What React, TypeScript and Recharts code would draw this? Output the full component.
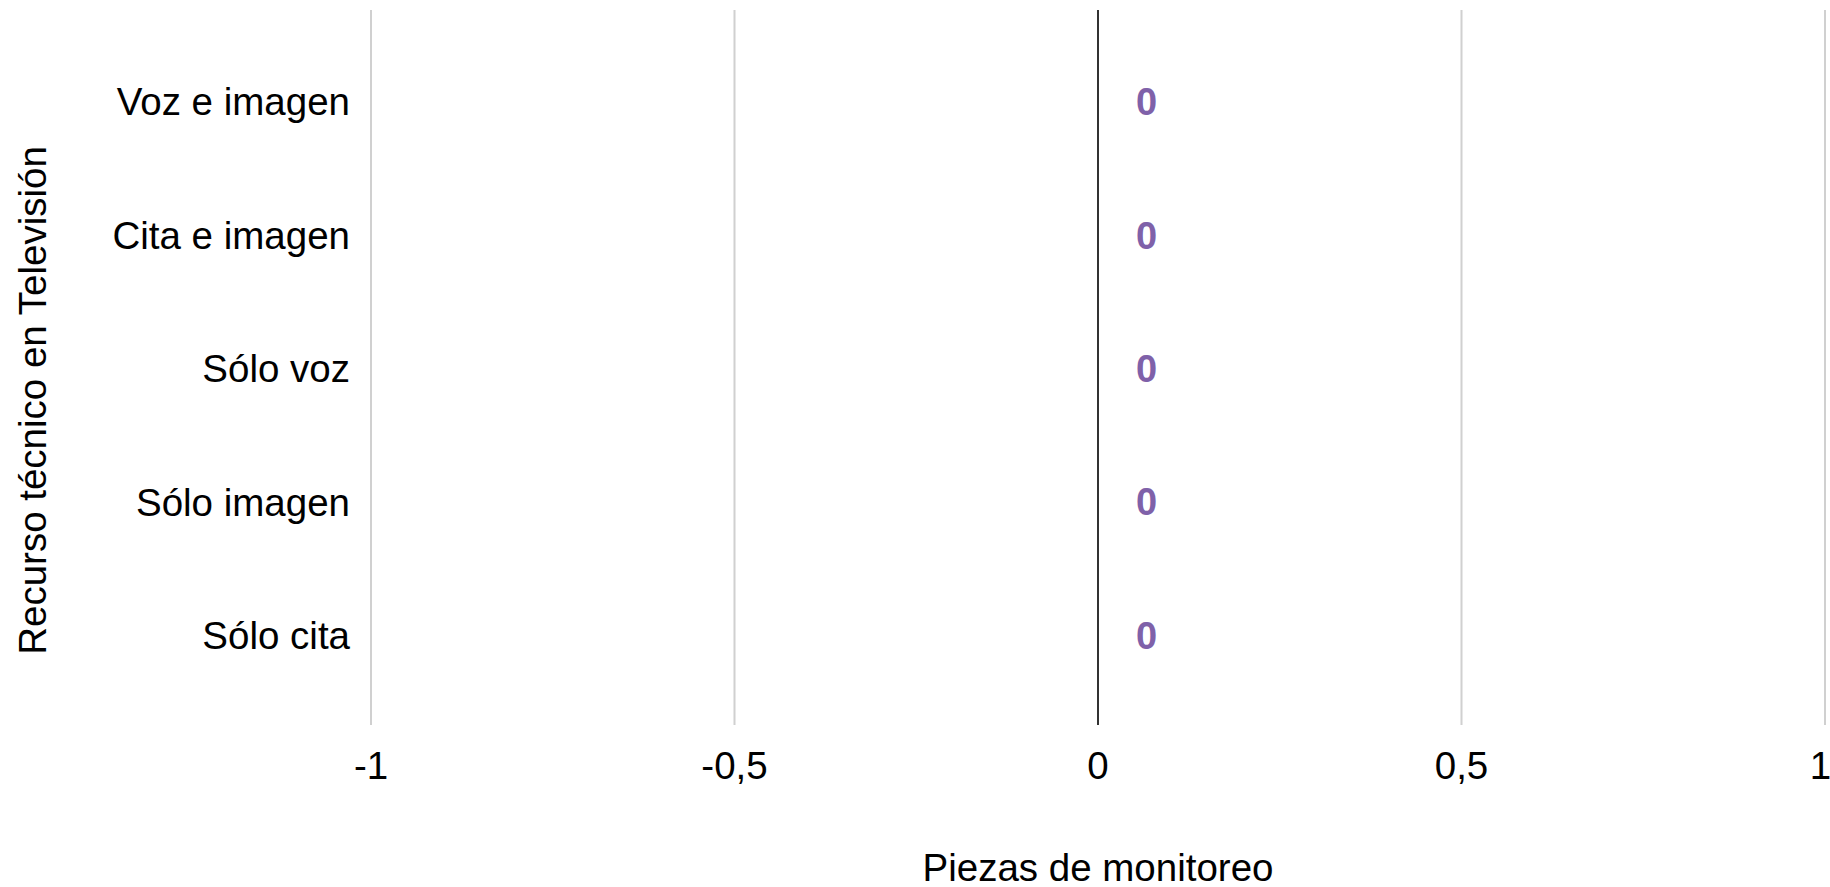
import React from 'react';
import {
  ComposedChart,
  Bar,
  Line,
  XAxis,
  YAxis,
  CartesianGrid,
  ReferenceLine,
  LabelList,
} from 'recharts';

const categories = ['Voz e imagen', 'Cita e imagen', 'Sólo voz', 'Sólo imagen', 'Sólo cita'];
const piezas = [0, 0, 0, 0, 0];
const xTicks = [-1, -0.5, 0, 0.5, 1];

const data = categories.map((c, i) => ({ categoria: c, piezas: piezas[i] }));

const FONT = '"Liberation Sans", Arial, Helvetica, sans-serif';
const PURPLE = '#7f61a9';

const YTitle = (props: any) => {
  const vb = props.viewBox || {};
  const cx = 32;
  const cy = vb.y + vb.height / 2 + 33;
  return (
    <text
      x={cx}
      y={cy}
      transform={`rotate(-90 ${cx} ${cy})`}
      textAnchor="middle"
      dominantBaseline="central"
      fontFamily={FONT}
      fontSize={38.5}
      fill="#000"
    >
      Recurso técnico en Televisión
    </text>
  );
};

export default function App() {
  return (
    <div style={{ width: 1830, height: 887 }}>
      <style>{'body{margin:0;overflow:hidden;background:#fff}'}</style>
      <ComposedChart
        width={1830}
        height={887}
        data={data}
        layout="vertical"
        margin={{ top: 10, right: 5, bottom: 0, left: 0 }}
      >
        <CartesianGrid horizontal={false} vertical stroke="#d0d0d0" strokeWidth={2} />
        <XAxis
          type="number"
          domain={[-1, 1]}
          ticks={xTicks}
          tickFormatter={(v: number) => String(v).replace('.', ',')}
          axisLine={false}
          tickLine={false}
          tickSize={0}
          tickMargin={27}
          height={162}
          tick={{ fontFamily: FONT, fontSize: 38.5, fill: '#000' }}
          label={{
            value: 'Piezas de monitoreo',
            position: 'insideBottom',
            offset: 6,
            style: { fontFamily: FONT, fontSize: 38.5, fill: '#000' },
          }}
        />
        <YAxis
          type="category"
          dataKey="categoria"
          width={371}
          axisLine={false}
          tickLine={false}
          tickSize={0}
          tickMargin={21}
          padding={{ top: 25, bottom: 23 }}
          interval={0}
          tick={{ fontFamily: FONT, fontSize: 38.5, fill: '#000' }}
          label={<YTitle />}
        />
        <ReferenceLine x={0} stroke="#333" strokeWidth={2} />
        <Bar dataKey="piezas" fill={PURPLE} isAnimationActive={false} />
        <Line
          dataKey="piezas"
          stroke="none"
          dot={false}
          activeDot={false}
          isAnimationActive={false}
        >
          <LabelList
            dataKey="piezas"
            position="right"
            offset={38}
            style={{ fontFamily: FONT, fontSize: 38, fontWeight: 'bold', fill: PURPLE }}
          />
        </Line>
      </ComposedChart>
    </div>
  );
}
